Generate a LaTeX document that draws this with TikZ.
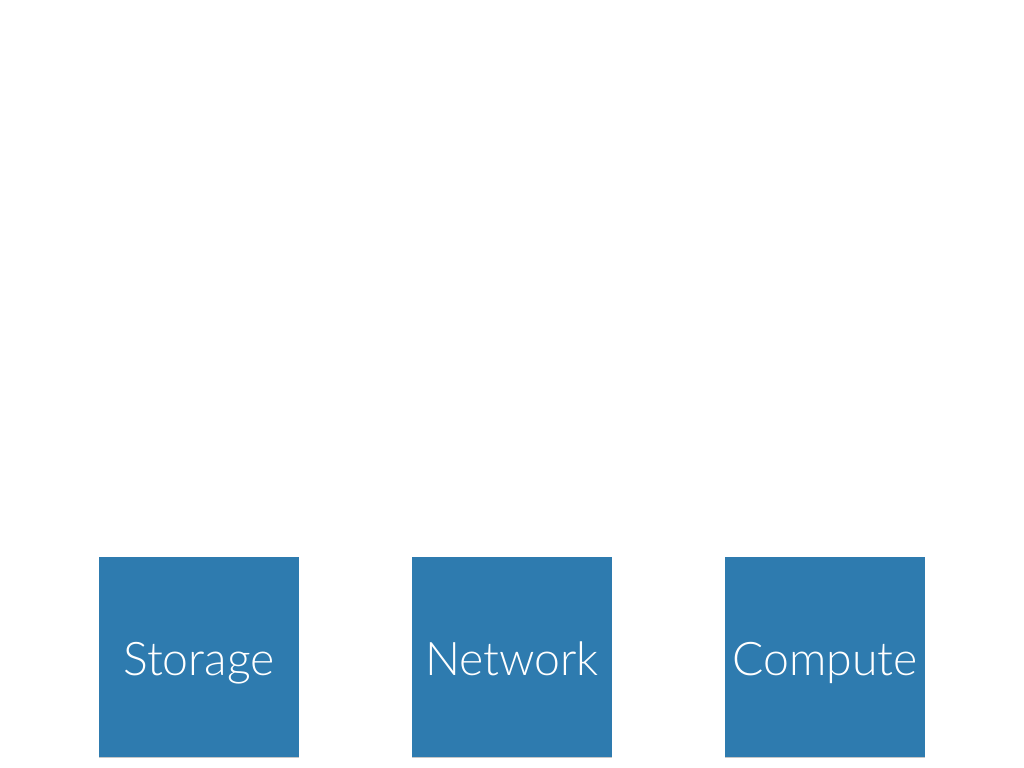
\documentclass[tikz,border=0pt]{standalone}
\usepackage{fontspec}
\setmainfont{Lato Light}
\usetikzlibrary{shadows}
\definecolor{tileblue}{RGB}{46,123,175}

\begin{document}
\begin{tikzpicture}[
    tile/.style={fill=tileblue, minimum size=5cm, inner sep=0pt,
      text=white, font=\fontsize{33}{40}\selectfont,
      text height=1.2cm, text depth=0.25cm,
      drop shadow={opacity=0.45, shadow xshift=0cm, shadow yshift=-0.03cm}}]
          \useasboundingbox (0,0) rectangle (25.6,19.2);
          \node[tile] (storage) at (4.975,2.775) {Storage};
          \node[tile] (network) at (12.8,2.775) {Network};
          \node[tile] (compute) at (20.625,2.775) {Compute};
      \end{tikzpicture}
\end{document}
